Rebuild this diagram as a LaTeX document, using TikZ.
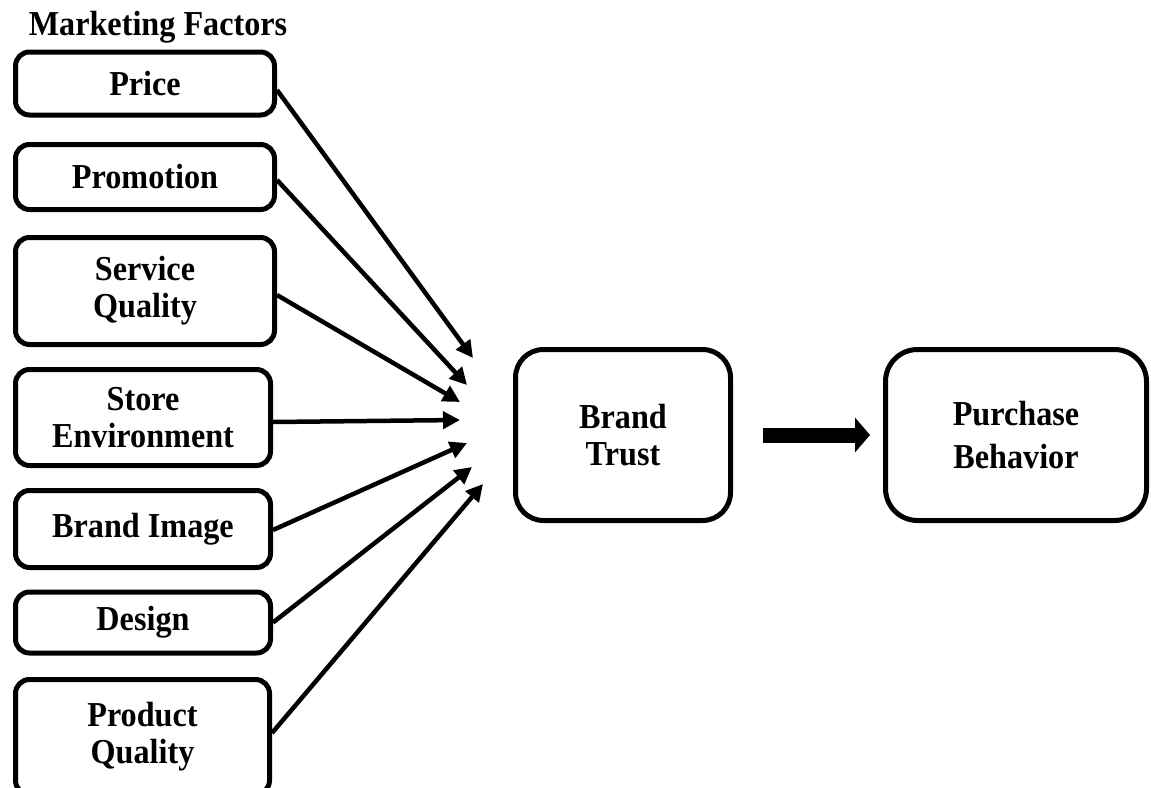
\documentclass[tikz,border=0pt]{standalone}
\usepackage{fontspec}
\setmainfont{Liberation Serif}[FakeStretch=0.92]
\usetikzlibrary{arrows.meta}
\tikzset{
  factor/.style={draw, line width=5pt, rounded corners=14pt, align=center,
    font=\fontsize{35}{37}\selectfont\bfseries, inner sep=0pt},
  bigbox/.style={draw, line width=5pt, rounded corners=28pt, align=center,
    font=\fontsize{35}{37}\selectfont\bfseries, inner sep=0pt},
  link/.style={line width=4.5pt, -{Triangle[length=17pt,width=17pt]}},
  fat/.style={line width=15pt, -{Triangle[length=15pt,width=34pt]}}
}
\begin{document}
\begin{tikzpicture}[x=1pt,y=-1pt]
\useasboundingbox (0,0) rectangle (1151,787);
\clip (0,0) rectangle (1151,787);

% heading of the factor column
\node[anchor=base, font=\fontsize{35}{37}\selectfont\bfseries] (title) at (158,35) {Marketing Factors};

% marketing factors
\node[factor, minimum width=259pt, minimum height=63pt] (price)   at (145,83.5) {Price};
\node[factor, minimum width=259pt, minimum height=65pt] (promo)   at (145,177)  {Promotion};
\node[factor, minimum width=259pt, minimum height=107pt] (service) at (145,291) {Service\\Quality};
\node[factor, minimum width=255pt, minimum height=96pt] (store)   at (143,417.5) {Store\\Environment};
\node[factor, minimum width=255pt, minimum height=77pt] (bimage)  at (143,529)  {Brand Image};
\node[factor, minimum width=255pt, minimum height=61pt] (design)  at (143,622.5) {Design};
\node[factor, minimum width=254pt, minimum height=115pt] (product) at (142.5,737) {Product\\Quality};

% mediator and outcome
\node[bigbox, minimum width=215pt, minimum height=171pt] (trust) at (623,435) {Brand\\Trust};
\node[bigbox, minimum width=261pt, minimum height=171pt, rounded corners=32pt,
      font=\fontsize{35}{43}\selectfont\bfseries] (purchase) at (1016,435) {Purchase\\Behavior};

% arrow tips in front of Brand Trust
\coordinate (t1) at (473,358);
\coordinate (t2) at (467,385);
\coordinate (t3) at (460,402);
\coordinate (t4) at (460,420);
\coordinate (t5) at (467,443);
\coordinate (t6) at (472,467);
\coordinate (t7) at (483,484);

\draw[link] ([yshift=-6.5pt]price.east) -- (t1);
\draw[link] ([yshift=-3pt]promo.east) -- (t2);
\draw[link] ([yshift=-4pt]service.east) -- (t3);
\draw[link] ([yshift=-4.5pt]store.east) -- (t4);
\draw[link] ([yshift=-1pt]bimage.east) -- (t5);
\draw[link] (design.east) -- (t6);
\draw[link] ([yshift=4pt]product.east) -- (t7);

% block arrow from trust to behaviour
\draw[fat] ([xshift=30pt]trust.east) -- ([xshift=-13pt]purchase.west);
\end{tikzpicture}
\end{document}
